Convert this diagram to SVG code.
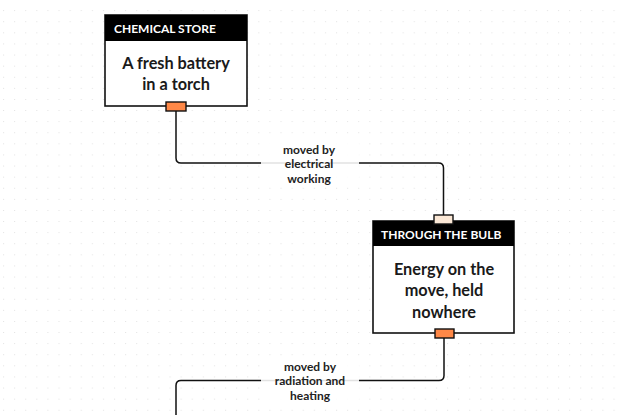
<svg xmlns="http://www.w3.org/2000/svg" width="620" height="415" viewBox="0 0 620 415">
<defs>
<pattern id="dots" x="3" y="0" width="11.1" height="11.1" patternUnits="userSpaceOnUse">
<circle cx="0.5" cy="11" r="0.7" fill="#d6d6d6"/>
</pattern>
<style>
.box{fill:#fff;stroke:#111;stroke-width:1.6}
.hdr{fill:#000}
.htxt{font-family:Lato,"Noto Sans",sans-serif;font-weight:700;font-size:12px;fill:#fff}
.btxt{font-family:Lato,"Noto Sans",sans-serif;font-weight:700;font-size:16.3px;fill:#1a1a1a;text-anchor:middle}
.ltxt{font-family:Lato,"Noto Sans",sans-serif;font-weight:700;font-size:12px;fill:#222;text-anchor:middle}
.wire{fill:none;stroke:#111;stroke-width:1.5}
.pout{fill:#ff8847;stroke:#111;stroke-width:1.4}
.pin{fill:#fbe8d6;stroke:#111;stroke-width:1.4}
.lbg{fill:#fff;opacity:0.88}
</style>
</defs>
<rect width="620" height="415" fill="#fff"/>
<rect width="620" height="415" fill="url(#dots)"/>
<g id="connectors">
<path class="wire" d="M176 111 V158 Q176 163 181 163 H438.5 Q443.5 163 443.5 168 V215"/>
<rect class="lbg" x="261" y="141" width="98" height="44"/>
<text class="ltxt" x="309" y="154">moved by</text>
<text class="ltxt" x="309" y="168">electrical</text>
<text class="ltxt" x="309" y="183">working</text>
<path class="wire" d="M444 338 V375.5 Q444 380.5 439 380.5 H181 Q176 380.5 176 385.5 V420"/>
<rect class="lbg" x="261" y="358" width="98" height="44"/>
<text class="ltxt" x="310" y="371">moved by</text>
<text class="ltxt" x="310" y="385">radiation and</text>
<text class="ltxt" x="310" y="400">heating</text>
</g>
<g id="node-chemical-store">
<rect class="box" x="105" y="15" width="142" height="91"/>
<rect class="hdr" x="105" y="15" width="142" height="26"/>
<text class="htxt" x="114" y="32.5">CHEMICAL STORE</text>
<text class="btxt" x="176" y="69">A fresh battery</text>
<text class="btxt" x="176" y="90">in a torch</text>
<rect class="pout" x="166" y="102" width="20" height="9"/>
</g>
<g id="node-through-the-bulb">
<rect class="box" x="373" y="221" width="141" height="112"/>
<rect class="hdr" x="373" y="221" width="141" height="25"/>
<text class="htxt" x="381" y="238.5">THROUGH THE BULB</text>
<text class="btxt" x="444" y="275">Energy on the</text>
<text class="btxt" x="444" y="296">move, held</text>
<text class="btxt" x="444" y="318">nowhere</text>
<rect class="pin" x="434" y="215" width="19" height="9"/>
<rect class="pout" x="435" y="329" width="19" height="9"/>
</g>
</svg>
